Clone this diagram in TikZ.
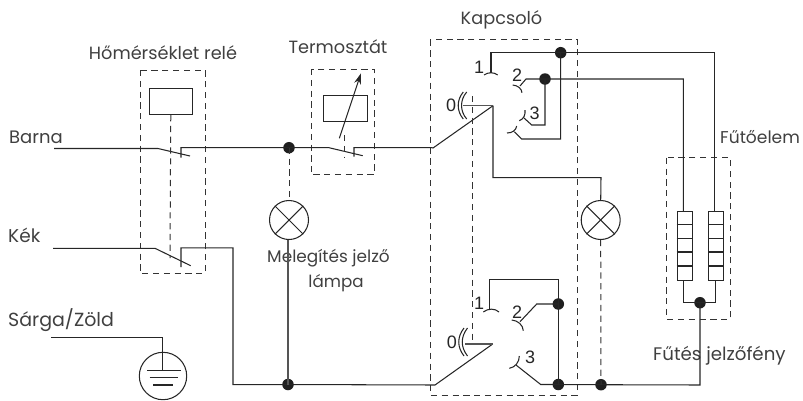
\documentclass[tikz,border=0pt]{standalone}
\usepackage{fontspec}
\setmainfont{Poppins}
\newfontfamily\digitfont{Liberation Sans}
\usetikzlibrary{arrows.meta}
\definecolor{ink}{HTML}{262626}
\definecolor{dashink}{HTML}{333333}
\definecolor{grayink}{HTML}{555555}
\newcommand{\lblsize}[1]{\fontsize{#1pt}{20pt}\selectfont}
\tikzset{
  wire/.style={draw=ink,line width=1.05pt,line join=miter},
  graywire/.style={draw=grayink,line width=1.1pt},
  dashbox/.style={draw=dashink,line width=1pt,dash pattern=on 6.2pt off 4.6pt},
  dashlink/.style={draw=dashink,line width=1pt,dash pattern=on 6.2pt off 4.6pt},
  dotnode/.style={circle,fill=black!88,draw=none,inner sep=0pt,minimum size=11.5pt},
  lampnode/.style={circle,draw=ink,line width=1.05pt,inner sep=0pt,minimum size=39pt},
  lbl/.style={font=\lblsize{17.7},text=black!75,inner sep=0pt,anchor=base},
  num/.style={font=\digitfont\fontsize{18pt}{20pt}\selectfont,text=black!85,inner sep=0pt},
  boxnode/.style={rectangle,draw=ink,line width=1.05pt,inner sep=0pt,anchor=north west}
}
\begin{document}
\begin{tikzpicture}[x=1pt,y=-1pt]
\useasboundingbox (0,0) rectangle (803,400);
% dashed housings
\draw[dashbox] (140,70) rectangle (205,273);
\draw[dashbox] (311,69) rectangle (374,174.7);
\draw[dashbox] (430,39.5) rectangle (577.3,395);
\draw[dashbox] (666.7,157.7) rectangle (730,319.3);
% labels
\node[lbl] (tRele) at (163,59) {Hőmérséklet relé};
\node[lbl,font=\lblsize{18},anchor=base west] (tBarna) at (9,143) {Barna};
\node[lbl,font=\lblsize{18.5},anchor=base west] (tKek) at (8,242) {Kék};
\node[lbl,font=\lblsize{19},anchor=base west] (tSarga) at (8,326) {Sárga/Zöld};
\node[lbl] (tTermo) at (338,53) {Termosztát};
\node[lbl] (tKapcs) at (501.5,24) {Kapcsoló};
\node[lbl,font=\lblsize{17.1},anchor=base west] (tFuto) at (720,143) {Fűtőelem};
\node[lbl,font=\lblsize{18.2},anchor=base west] (tFutes) at (653,360) {Fűtés jelzőfény};
\node[lbl,font=\lblsize{16.9}] (tMeleg) at (328.5,262) {Melegítés jelző};
\node[lbl,font=\lblsize{16.7}] (tLampa) at (336,287) {lámpa};
\node[num] (nA1) at (479,67) {1};
\node[num] (nA2) at (517,75) {2};
\node[num] (nA3) at (534.5,113) {3};
\node[num] (nA0) at (451,105) {0};
\node[num] (nB1) at (479,303) {1};
\node[num] (nB2) at (517,312) {2};
\node[num] (nB3) at (530,357) {3};
\node[num] (nB0) at (452,342) {0};
% components
\node[boxnode,minimum width=43.5pt,minimum height=26pt] (coilR) at (148.5,88) {};
\node[boxnode,minimum width=43.4pt,minimum height=25.7pt] (coilT) at (323.3,95) {};
\node[lampnode] (lampL) at (289,220) {};
\node[lampnode] (lampR) at (600.7,220) {};
\foreach \l in {lampL,lampR}{
  \draw[wire] (\l.45) -- (\l.225);
  \draw[wire] (\l.135) -- (\l.315);
}
\node[boxnode,minimum width=15pt,minimum height=69.3pt] (heatL) at (676.7,211) {};
\node[boxnode,minimum width=15pt,minimum height=69.3pt] (heatR) at (708.3,211) {};
\foreach \h in {heatL,heatR}{
  \foreach \f in {13.5,27.3,41,55}{
    \draw[wire] ([yshift=-\f pt]\h.north west) -- ([yshift=-\f pt]\h.north east);
  }
}
\node[circle,draw=ink,line width=1.05pt,inner sep=0pt,minimum size=47.4pt] (earth) at (163,376) {};
% junctions
\node[dotnode] (jA) at (289,147.7) {};
\node[dotnode] (jB) at (288,384.5) {};
\node[dotnode] (jC) at (560.7,52.7) {};
\node[dotnode] (jD) at (545,79) {};
\node[dotnode] (jE) at (558.3,304) {};
\node[dotnode] (jF) at (558.3,384.5) {};
\node[dotnode] (jG) at (601,384.7) {};
\node[dotnode] (jH) at (700,302.7) {};
% free ends
\coordinate (barnaL) at (54,148.5);
\coordinate (barnaS) at (158,148.5);
\coordinate (barnaT) at (190,156);
\coordinate (relC) at (181,157.5);
\coordinate (thS) at (329,147.7);
\coordinate (thT) at (362.7,155.7);
\coordinate (thC) at (354,156.5);
\coordinate (swIn) at (433,148);
\coordinate (pivA) at (493,105.7);
\coordinate (kekL) at (53,248.3);
\coordinate (kekS) at (155,248.3);
\coordinate (kekT) at (190.7,265.7);
\coordinate (kekC) at (181,267);
\coordinate (swInB) at (435,385);
\coordinate (pivB) at (492.7,344);
\coordinate (outEnd) at (700,385);
\coordinate (greenL) at (51,337.7);
% wires
\draw[wire] (barnaL) -- (barnaS) -- (barnaT);
\draw[wire] (relC) -- (181,147.7) -- (jA.center) -- (thS) -- (thT);
\draw[wire] (thC) -- (354,147.7) -- (432,147.7) -- (swIn) -- (pivA);
\draw[wire] (kekL) -- (kekS) -- (kekT);
\draw[wire] (kekC) -- (181,247.8) -- (233,247.8) -- (233,384.7) -- (jB.center) -- (swInB) -- (pivB);
\draw[graywire] (jB.center) -- (288,239.5);
\draw[wire] (pivA) -- (493,177.7) -- (601,177.7) -- (lampR.north);
\draw[graywire] (pivA) -- (463,105.7);
\draw[graywire] (pivB) -- (465,344);
\draw[wire] (jG.center) -- (outEnd) -- (jH.center);
\draw[wire] (683.2,280.3) -- (683.2,302.7) -- (jH.center) -- (715.7,302.7) -- (715.7,280.3);
\draw[wire] (greenL) -- (162.7,337.7) -- (162.7,370.7);
\draw[wire] (147,370.7) -- (181,370.7);
\draw[wire] (149.5,377.7) -- (177.5,377.7);
\draw[wire] (153,385) -- (173,385);
% top switch
\draw[wire] (491,73) -- (491,52.7) -- (jC.center) -- (714.3,52.7) -- (714.3,211);
\draw[wire] (jC.center) -- (560.7,139) -- (521.7,139) -- (514.3,131.7);
\draw[wire] (520,86) -- (526,79) -- (jD.center) -- (683.3,79) -- (683.3,211);
\draw[wire] (jD.center) -- (545,125) -- (531.7,125) -- (524,118);
\draw[wire] (484,75) .. controls (488,72) and (494,72) .. (497.7,75);
\draw[wire] (512.7,85) .. controls (518,85.5) and (521.5,88.5) .. (522,92.7);
\draw[wire] (519.3,120.7) .. controls (524,119) and (525.5,114.5) .. (525,110);
\draw[wire] (507,133) .. controls (512,133) and (516,130.5) .. (516.7,126);
\draw[wire] (463.3,92) .. controls (456.5,100) and (456.5,111) .. (463.3,119);
\draw[wire] (466.7,92) .. controls (459.8,100) and (459.8,111) .. (466.7,119);
% bottom switch
\draw[wire] (489.7,310) -- (489.7,279.3) -- (558.3,279.3) -- (jF.center);
\draw[wire] (jE.center) -- (536.7,304) -- (520,321.7);
\draw[wire] (516,365) -- (540.7,384.5) -- (jF.center) -- (jG.center);
\draw[wire] (483.3,312) .. controls (488,308.2) and (495,308.2) .. (499,312);
\draw[wire] (511.7,320) .. controls (518,320.5) and (523,325) .. (523.3,330.7);
\draw[wire] (509.3,368.3) .. controls (515,367.5) and (519.5,362) .. (519.3,356);
\draw[wire] (464,328) .. controls (457,337) and (457,347) .. (464,356);
\draw[wire] (467.5,328) .. controls (460.5,337) and (460.5,347) .. (467.5,356);
% dashed links
\draw[dashlink] (coilR.south) -- (170,258);
\draw[dashlink] (344,135) -- (344,157);
\draw[dashlink] (jA.center) -- (lampL.north);
\draw[dashlink] (lampR.south) -- (jG.center);
\draw[dashlink] (472.7,96) -- (472.7,343);
% thermostat arrow
\draw[wire,-{Stealth[length=11pt,width=7pt]}] (339.3,138.3) -- (361,73.3);
\end{tikzpicture}
\end{document}
